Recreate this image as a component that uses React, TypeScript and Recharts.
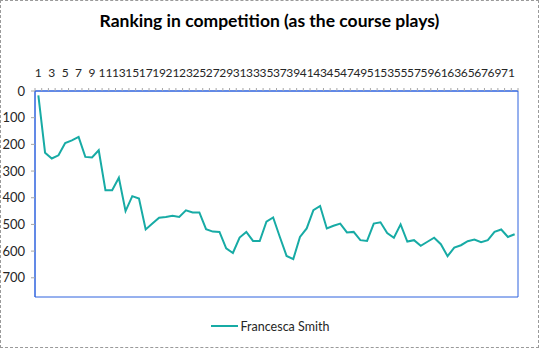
import React from "react";
import { LineChart, Line, XAxis, YAxis, Legend, CartesianGrid } from "recharts";

const holes: string[] = Array.from({ length: 72 }, (_, i) => String(i + 1));
const ranking: number[] = [
  16, 231, 253, 241, 195, 185, 172, 247, 249, 222,
  372, 372, 325, 450, 394, 403, 519, 497, 475, 472,
  468, 472, 447, 455, 455, 518, 527, 528, 590, 607,
  549, 528, 562, 562, 490, 474, 547, 618, 630, 547,
  515, 447, 431, 515, 505, 497, 530, 528, 559, 562,
  497, 492, 532, 550, 500, 564, 559, 580, 565, 550,
  574, 619, 587, 578, 563, 557, 567, 559, 528, 519,
  547, 537,
];
const yTicks: number[] = [0, 100, 200, 300, 400, 500, 600, 700];
const seriesName = "Francesca Smith";
const title = "Ranking in competition (as the course plays)";

const data = holes.map((h, i) => ({ hole: h, rank: ranking[i] }));

const W = 539;
const H = 348;
const FONT = "Lato, 'Open Sans', sans-serif";
const LINE_COLOR = "#17ABA5";
const AXIS_COLOR = "#2F62DE";
const BAND = (518 - 35) / 72;

const XTick = (props: any) => {
  const { x, y, payload, index } = props;
  return (
    <g>
      <line x1={x - BAND / 2} x2={x - BAND / 2} y1={y - 3} y2={y} stroke="#A6A6A6" strokeWidth={1} />
      {index === 71 ? (
        <line x1={x + BAND / 2} x2={x + BAND / 2} y1={y - 3} y2={y} stroke="#A6A6A6" strokeWidth={1} />
      ) : null}
      {index % 2 === 0 ? (
        <text x={x} y={y - 14} textAnchor="middle" fontSize={12} fill="#262626" fontFamily={FONT}>
          {payload.value}
        </text>
      ) : null}
    </g>
  );
};

const LegendContent = () => (
  <div style={{ display: "flex", justifyContent: "center", paddingTop: 21, fontFamily: FONT, fontSize: 12.5, color: "#262626" }}>
    <div style={{ display: "flex", alignItems: "center", marginLeft: 22 }}>
      <svg width={28} height={16}>
        <line x1={0} x2={27} y1={8} y2={8} stroke={LINE_COLOR} strokeWidth={2} />
      </svg>
      <span style={{ marginLeft: 2 }}>{seriesName}</span>
    </div>
  </div>
);

export default function App() {
  return (
    <div style={{ position: "absolute", left: 0, top: 0, width: W, height: H, background: "#fff" }}>
      <div
        style={{
          position: "absolute",
          left: 0,
          top: 0,
          width: W,
          height: H,
          boxSizing: "border-box",
          border: "1px dashed #9a9a9a",
          pointerEvents: "none",
          zIndex: 2,
        }}
      />
      <div
        style={{
          position: "absolute",
          left: 0,
          top: 10,
          width: W,
          textAlign: "center",
          fontFamily: FONT,
          fontWeight: "bold",
          fontSize: 17.5,
          color: "#000",
          zIndex: 1,
        }}
      >
        {title}
      </div>
      <LineChart width={W} height={H} data={data} margin={{ top: 60, right: 21, bottom: 0, left: 0 }}>
        <CartesianGrid
          stroke={AXIS_COLOR}
          strokeWidth={1}
          fill="none"
          horizontalCoordinatesGenerator={({ offset }: any) => [offset.top, offset.top + offset.height]}
          verticalCoordinatesGenerator={({ offset }: any) => [offset.left, offset.left + offset.width]}
        />
        <XAxis
          dataKey="hole"
          orientation="top"
          height={31}
          interval={0}
          padding={{ left: BAND / 2, right: BAND / 2 }}
          tickLine={false}
          tickSize={0}
          tickMargin={0}
          axisLine={{ stroke: AXIS_COLOR, strokeWidth: 1 }}
          tick={<XTick />}
        />
        <YAxis
          reversed
          domain={[0, 772]}
          ticks={yTicks}
          width={35}
          tickSize={4}
          tickMargin={6}
          tickLine={{ stroke: "#A6A6A6" }}
          axisLine={{ stroke: AXIS_COLOR, strokeWidth: 1 }}
          tick={{ fontSize: 13, fill: "#262626", fontFamily: FONT }}
          allowDataOverflow
        />
        <Legend verticalAlign="bottom" height={51} content={<LegendContent />} />
        <Line
          type="linear"
          dataKey="rank"
          name={seriesName}
          stroke={LINE_COLOR}
          strokeWidth={2}
          dot={false}
          isAnimationActive={false}
        />
      </LineChart>
    </div>
  );
}
